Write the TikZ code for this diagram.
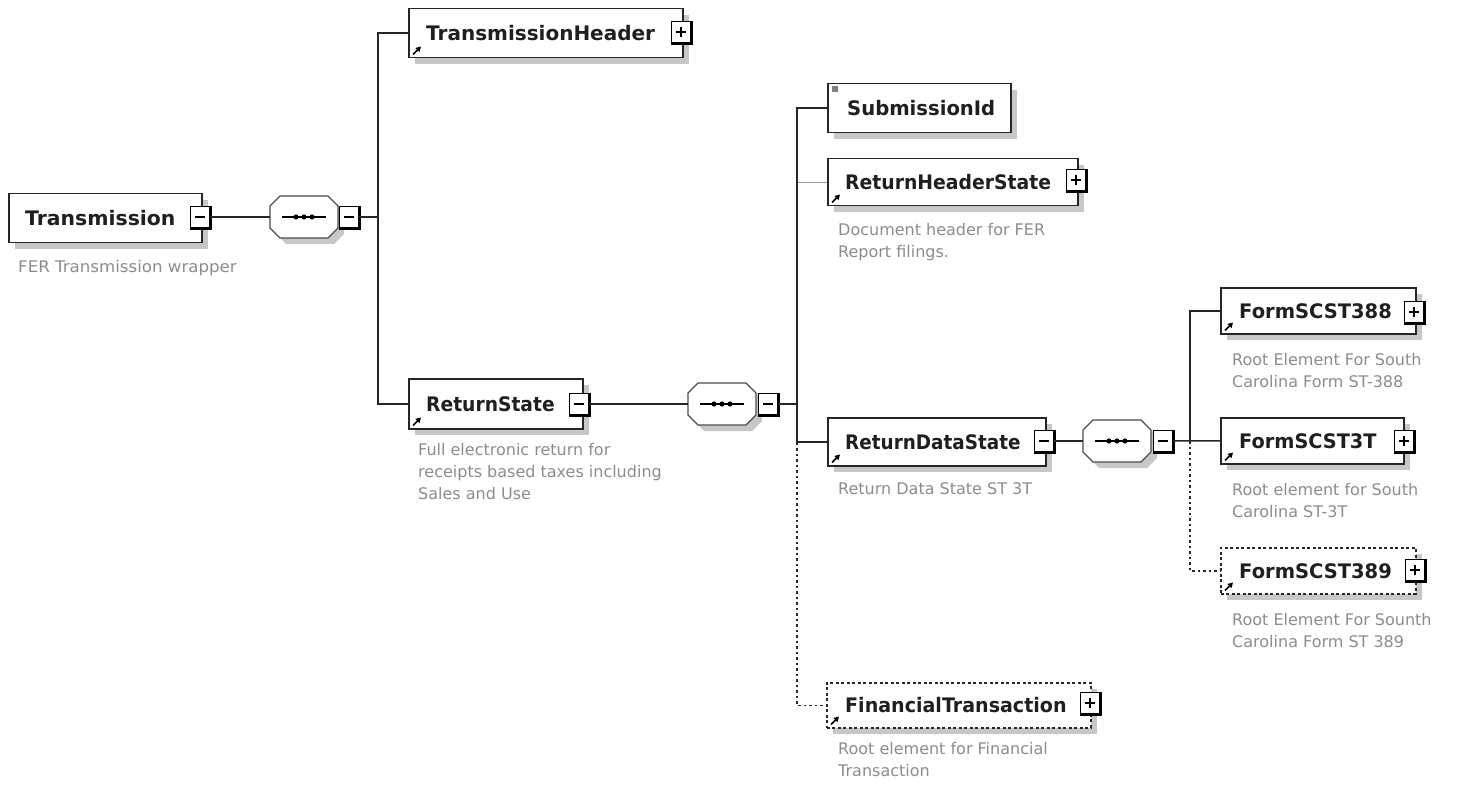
\documentclass[tikz,border=0pt]{standalone}
\usepackage{fontspec}
\setmainfont{DejaVu Sans}
\usetikzlibrary{shadows,arrows.meta}
\newcommand\mybtn[4]{%
  \node[btn] (#1) at (#2,#3) {};
  \draw[line width=2.2pt] ([shift={(1,0)}]#1.north east) -- ([shift={(1,1)}]#1.south east) -- ([shift={(0,1)}]#1.south west);
  \draw[line width=1.2pt] ([xshift=-5pt]#1.center) -- ([xshift=5pt]#1.center);
  \ifx p#4\draw[line width=1.2pt] ([yshift=-5pt]#1.center) -- ([yshift=5pt]#1.center);\fi
}
\newcommand\myseq[3]{%
  \fill[black!22, shift={(#2+6,#3+6)}] (-34,-11)--(-24,-21)--(24,-21)--(34,-11)--(34,11)--(24,21)--(-24,21)--(-34,11)--cycle;
  \filldraw[fill=white, draw=black!70, line width=1.2pt, shift={(#2,#3)}] (-34,-11)--(-24,-21)--(24,-21)--(34,-11)--(34,11)--(24,21)--(-24,21)--(-34,11)--cycle;
  \node[minimum width=68pt, minimum height=42pt, inner sep=0pt] (#1) at (#2,#3) {};
  \draw[line width=1.5pt] ([xshift=-22pt]#1.center) -- ([xshift=22pt]#1.center);
  \foreach \dx in {-8,0,8} \fill ([xshift=\dx pt]#1.center) circle (2.6pt);
}
\newcommand\refic[1]{%
  \draw[line width=1.6pt, -{Triangle[length=5pt,width=5.5pt]}] ([shift={(5,-4)}]#1.south west) -- ([shift={(13,-12)}]#1.south west);
}
\newcommand\sx[2]{\scalebox{#1}[1]{#2}}
\begin{document}
\begin{tikzpicture}[x=1pt,y=-1pt,
  ebox/.style={draw=black!85, line width=1.5pt, fill=white, rectangle, inner sep=0pt, anchor=north west,
    drop shadow={shadow xshift=6pt, shadow yshift=-6pt, fill=black!22, opacity=1}},
  optbox/.style={ebox, dash pattern=on 3pt off 2.5pt},
  lbl/.style={anchor=west, inner sep=0pt, font=\fontsize{20}{22}\selectfont\bfseries, text=black!88},
  desc/.style={anchor=north west, inner sep=0pt, align=left, font=\fontsize{16}{22}\selectfont, text=black!45},
  btn/.style={draw=black, line width=1.2pt, fill=white, minimum width=19pt, minimum height=21pt, inner sep=0pt},
  conn/.style={line width=1.5pt, black!85},
  optconn/.style={conn, dash pattern=on 2.5pt off 3pt},
]
\useasboundingbox (0,0) rectangle (1461,786);

% Transmission
\node[ebox, minimum width=193pt, minimum height=49pt] (tr) at (8,193) {};
\node[lbl] (trl) at ([xshift=17pt]tr.west) {\sx{1.02}{Transmission}};
\mybtn{trb}{200}{217}{m}
\node[desc] (trd) at (18,260) {\sx{1.04}{FER Transmission wrapper}};

\myseq{sa}{304}{217}
\mybtn{sab}{349}{217}{m}
\coordinate (ja) at (378,217);

% TransmissionHeader
\node[ebox, minimum width=274pt, minimum height=49pt] (th) at (408,8) {};
\node[lbl] (thl) at ([xshift=18pt]th.west) {TransmissionHeader};
\refic{th}
\mybtn{thb}{681}{32}{p}

% ReturnState
\node[ebox, minimum width=174pt, minimum height=50pt] (rs) at (408,378) {};
\node[lbl] (rsl) at ([xshift=18pt]rs.west) {\sx{0.935}{ReturnState}};
\refic{rs}
\mybtn{rsb}{579}{404}{m}
\node[desc] (rsd) at (418,443) {Full electronic return for\\receipts based taxes including\\Sales and Use};

\myseq{sb}{722}{404}
\mybtn{sbb}{768}{404}{m}
\coordinate (jb) at (797,404);

% SubmissionId
\node[ebox, minimum width=183pt, minimum height=49pt] (sid) at (827,83) {};
\node[lbl] (sidl) at ([xshift=20pt]sid.west) {\sx{0.98}{SubmissionId}};
\fill[black!50] ([shift={(5,3)}]sid.north west) rectangle ([shift={(11,9)}]sid.north west);

% ReturnHeaderState
\node[ebox, minimum width=250pt, minimum height=47pt] (rhs) at (827,158) {};
\node[lbl] (rhsl) at ([xshift=18pt]rhs.west) {\sx{0.94}{ReturnHeaderState}};
\refic{rhs}
\mybtn{rhsb}{1076}{180}{p}
\node[desc] (rhsd) at (838,223) {Document header for FER\\Report filings.};

% ReturnDataState
\node[ebox, minimum width=218pt, minimum height=48pt] (rds) at (827,417) {};
\node[lbl] (rdsl) at ([xshift=18pt]rds.west) {\sx{0.92}{ReturnDataState}};
\refic{rds}
\mybtn{rdsb}{1044}{441}{m}
\node[desc] (rdsd) at (838,482) {Return Data State ST 3T};

\myseq{sc}{1117}{441}
\mybtn{scb}{1163}{441}{m}
\coordinate (jc) at (1190,441);

% FormSCST388
\node[ebox, minimum width=195pt, minimum height=46pt] (fa) at (1220,287) {};
\node[lbl] (fal) at ([xshift=19pt]fa.west) {\sx{0.975}{FormSCST388}};
\refic{fa}
\mybtn{fab}{1414}{312}{p}
\node[desc] (fad) at (1232,353) {Root Element For South\\Carolina Form ST-388};

% FormSCST3T
\node[ebox, minimum width=183pt, minimum height=46pt] (fb) at (1220,417) {};
\node[lbl] (fbl) at ([xshift=19pt]fb.west) {\sx{0.965}{FormSCST3T}};
\refic{fb}
\mybtn{fbb}{1404}{441}{p}
\node[desc] (fbd) at (1232,483) {Root element for South\\Carolina ST-3T};

% FormSCST389
\node[optbox, minimum width=195pt, minimum height=46pt] (fc) at (1220,547) {};
\node[lbl] (fcl) at ([xshift=19pt]fc.west) {\sx{0.975}{FormSCST389}};
\refic{fc}
\mybtn{fcb}{1415}{570}{p}
\node[desc] (fcd) at (1232,613) {Root Element For Sounth\\Carolina Form ST 389};

% FinancialTransaction
\node[optbox, minimum width=264pt, minimum height=45pt] (ft) at (826,682) {};
\node[lbl] (ftl) at ([xshift=19pt]ft.west) {\sx{0.953}{FinancialTransaction}};
\refic{ft}
\mybtn{ftb}{1090}{703}{p}
\node[desc] (ftd) at (838,742) {Root element for Financial\\Transaction};

% connectors
\draw[conn] (trb.east) -- (sa.west);
\draw[conn] (sab.east) -- (ja);
\draw[conn] (ja) |- (th.west);
\draw[conn] (ja) |- (rs.west);
\draw[conn] (rsb.east) -- (sb.west);
\draw[conn] (sbb.east) -- (jb);
\draw[optconn] (jb) |- (ft.west);
\draw[black!40, line width=1.2pt] (jb) |- (rhs.west);
\draw[conn] (jb) |- (sid.west);
\draw[conn] (jb) |- (rds.west);
\draw[conn] (rdsb.east) -- (sc.west);
\draw[conn] (scb.east) -- (fb.west);
\draw[optconn] (jc) |- (fc.west);
\draw[conn] (jc) |- (fa.west);
\end{tikzpicture}
\end{document}
